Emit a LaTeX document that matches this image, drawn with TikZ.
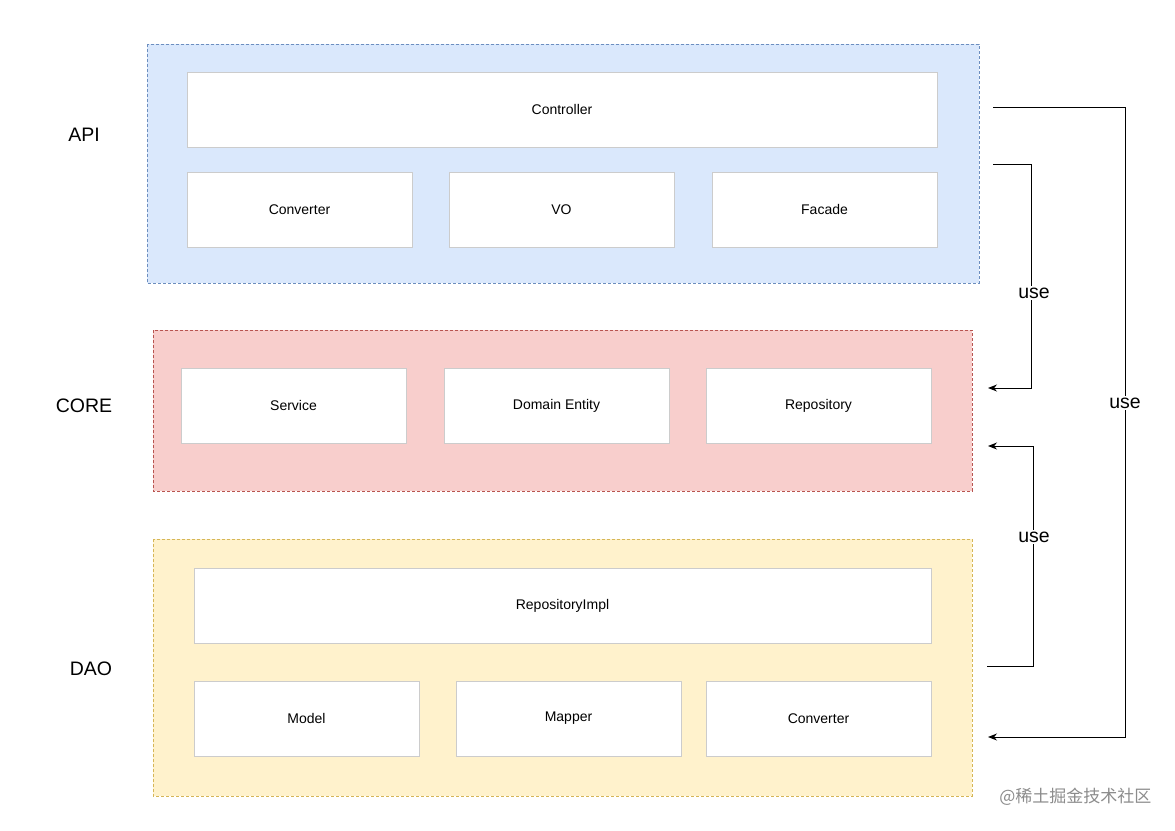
\documentclass[tikz,border=0pt]{standalone}
\usepackage{fontspec}
\setmainfont{Liberation Sans}
\newfontfamily\cjk{Noto Sans CJK SC}
\usetikzlibrary{arrows.meta}
\definecolor{apif}{HTML}{DAE8FC}\definecolor{apid}{HTML}{6C8EBF}
\definecolor{coref}{HTML}{F8CECC}\definecolor{cored}{HTML}{B85450}
\definecolor{daof}{HTML}{FFF2CC}\definecolor{daod}{HTML}{D6B656}
\definecolor{boxd}{HTML}{CCCCCC}
\begin{document}
\begin{tikzpicture}[x=1pt,y=-1pt,
  layer/.style={dashed,dash pattern=on 3pt off 2pt,line width=0.7pt},
  comp/.style={draw=boxd,fill=white,line width=0.8pt},
  ctext/.style={font=\fontsize{14}{16}\selectfont},
  lname/.style={font=\fontsize{19.5}{22}\selectfont},
  conn/.style={line width=1pt,-{Stealth[length=9pt,width=7pt]}},
  uselbl/.style={fill=white,inner sep=2pt,font=\fontsize{19.5}{22}\selectfont}]
\useasboundingbox (0,0) rectangle (1175,830);
\fill[white] (0,0) rectangle (1175,830);
% layers
\draw[layer,draw=apid,fill=apif] (147,44) rectangle (979,283);
\draw[layer,draw=cored,fill=coref] (153,330) rectangle (972,491);
\draw[layer,draw=daod,fill=daof] (153,539) rectangle (972,796);
% components
\newcommand\comp[6]{\draw[comp] (#2,#3) rectangle (#4,#5); \node[ctext] (#1) at ({(#2+#4)/2},{(#3+#5)/2}) {#6};}
\comp{ctrl}{187}{72}{937}{147}{Controller}
\comp{conv}{187}{172}{412}{247}{Converter}
\comp{vo}{449}{172}{674}{247}{VO}
\comp{fac}{712}{172}{937}{247}{Facade}
\comp{svc}{181}{368}{406}{443}{Service}
\comp{dom}{444}{368}{669}{443}{Domain Entity}
\comp{repo}{706}{368}{931}{443}{Repository}
\comp{rimpl}{194}{568}{931}{643}{RepositoryImpl}
\comp{model}{194}{681}{419}{756}{Model}
\comp{mapper}{456}{681}{681}{756}{Mapper}
\comp{dconv}{706}{681}{931}{756}{Converter}
% layer names
\node[lname] (api) at (84,135) {API};
\node[lname] (core) at (84,406) {CORE};
\node[lname] (dao) at (91,669) {DAO};
% connectors
\coordinate (a1) at (993,164); \coordinate (a2) at (988,388);
\coordinate (b1) at (987,666); \coordinate (b2) at (988,446);
\coordinate (c1) at (993,107); \coordinate (c2) at (988,737);
\draw[conn] (a1) -- (1031,164) -- (1031,388) -- (a2);
\draw[conn] (b1) -- (1033,666) -- (1033,446) -- (b2);
\draw[conn] (c1) -- (1125,107) -- (1125,737) -- (c2);
\node[uselbl] (u1) at (1034,293) {use};
\node[uselbl] (u2) at (1034,537) {use};
\node[uselbl] (u3) at (1125,403) {use};
\node[font=\cjk\fontsize{17}{20}\selectfont,text=black!45,anchor=east] (wm) at (1155,797) {@稀土掘金技术社区};
\end{tikzpicture}
\end{document}
